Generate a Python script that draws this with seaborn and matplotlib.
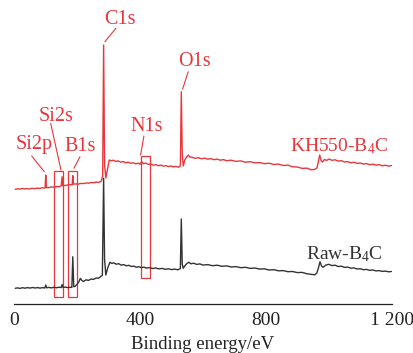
import matplotlib
matplotlib.use("Agg")
import matplotlib.pyplot as plt
import matplotlib.patches as patches
import seaborn as sns
import pandas as pd

# KH550-B4C spectrum (binding energy eV, intensity a.u.)
kh_energy = [3, 10, 18, 25, 32, 40, 48, 56, 64, 72, 80, 88, 95, 98, 100, 102, 110, 118, 126, 134,
             142, 149, 152, 154, 162, 170, 178, 184, 186, 188, 196, 204, 212, 220, 228, 236, 244,
             252, 260, 268, 276, 281, 284, 287, 291, 296, 302, 308, 315, 322, 330, 338, 346, 354,
             362, 370, 378, 386, 394, 400, 405, 410, 418, 426, 434, 442, 450, 458, 466, 474, 482,
             490, 498, 506, 514, 522, 528, 531, 534, 537, 542, 548, 553, 558, 565, 575, 585, 595,
             605, 615, 625, 635, 645, 655, 665, 675, 690, 705, 720, 735, 750, 765, 780, 795, 810,
             825, 840, 855, 870, 885, 900, 915, 930, 945, 955, 962, 966, 971, 976, 980, 986, 993,
             1001, 1010, 1020, 1030, 1040, 1050, 1060, 1070, 1080, 1090, 1100, 1110, 1120, 1130,
             1140, 1150, 1160, 1170, 1180, 1190, 1199]
kh_intensity = [114.7, 115.2, 114.9, 115.6, 115.1, 115.4, 115.0, 115.7, 115.3, 115.9, 115.6, 116.2,
                115.9, 116.3, 129, 116.5, 116.4, 117.0, 116.8, 117.4, 117.2, 118.0, 127.3, 118.2,
                118.6, 118.9, 119.4, 119.1, 128.3, 119.8, 120.1, 119.9, 120.6, 120.4, 121.0, 120.8,
                121.5, 121.3, 121.9, 121.7, 122.5, 128, 259, 139, 126, 134, 144, 143.2, 143.8,
                142.6, 143.1, 141.9, 142.4, 141.3, 141.8, 140.7, 141.2, 140.2, 140.8, 139.8, 142.5,
                140.2, 140.9, 139.6, 140.1, 138.8, 139.4, 138.3, 138.9, 137.8, 138.4, 137.4, 138.0,
                137.1, 137.6, 136.8, 138, 212.3, 150, 138, 144, 147, 149, 147, 146.8, 145.6, 146.3,
                145.2, 145.9, 144.8, 145.4, 144.3, 144.9, 143.8, 144.4, 143.3, 143.8, 142.6, 143.1,
                141.8, 142.3, 141.1, 141.5, 140.3, 140.8, 139.5, 139.9, 138.5, 138.9, 137.2, 137.0,
                135.6, 135.9, 134.2, 134.6, 136, 141, 149, 143, 142, 144.5, 143.6, 145, 143.7,
                144.2, 142.9, 143.3, 142.0, 142.4, 141.2, 141.7, 140.6, 141.0, 139.9, 140.4, 139.3,
                139.8, 138.9, 139.4, 138.2, 138.8, 137.9, 138.4]

# Raw-B4C spectrum
raw_energy = [3, 10, 18, 26, 34, 42, 50, 58, 66, 74, 82, 90, 97, 100, 103, 110, 118, 126, 134, 142,
              149, 152, 155, 162, 170, 178, 183, 186, 189, 194, 199, 205, 210, 215, 220, 228, 236,
              244, 252, 260, 268, 276, 280, 284, 287, 291, 297, 304, 310, 316, 324, 332, 340, 348,
              356, 364, 372, 380, 388, 396, 404, 412, 420, 430, 440, 450, 460, 470, 480, 490, 500,
              510, 520, 528, 531, 534, 537, 543, 549, 555, 562, 570, 580, 590, 600, 615, 630, 645,
              660, 675, 690, 705, 720, 735, 750, 765, 780, 795, 810, 825, 840, 855, 870, 885, 900,
              915, 930, 945, 955, 962, 967, 972, 977, 982, 990, 1000, 1010, 1020, 1030, 1040, 1050,
              1060, 1070, 1080, 1090, 1100, 1110, 1120, 1130, 1140, 1150, 1160, 1170, 1180, 1190,
              1199]
raw_intensity = [15.7, 16.1, 15.6, 16.3, 15.8, 16.4, 15.9, 16.5, 16.0, 16.4, 15.9, 16.4, 16.0, 19,
                 16.2, 16.6, 16.1, 16.7, 16.2, 16.8, 16.4, 19.5, 16.5, 16.9, 16.4, 16.8, 16.5, 47.3,
                 17.3, 17.8, 19.5, 22, 25.7, 23.5, 22.5, 24.2, 23.6, 25.0, 24.6, 26.0, 25.8, 27.8,
                 28.5, 125.7, 45, 29, 36, 41.7, 40.6, 41.2, 39.8, 40.3, 38.9, 39.4, 38.2, 38.7, 37.5,
                 37.9, 36.8, 37.3, 36.3, 36.9, 35.9, 36.4, 35.5, 36.0, 35.1, 35.6, 34.7, 35.2, 34.4,
                 34.9, 34.2, 35.5, 85, 40, 35.7, 38.5, 40.5, 41.7, 40.2, 40.8, 39.6, 40.1, 38.9,
                 39.4, 38.3, 38.8, 37.7, 38.1, 37.0, 37.4, 36.3, 36.7, 35.6, 36.0, 34.9, 35.2, 34.0,
                 34.3, 33.2, 33.4, 32.3, 32.5, 31.4, 31.6, 30.3, 29.6, 29.2, 31, 36, 42.3, 38, 36.7,
                 38.8, 39.7, 38.4, 38.8, 37.5, 37.8, 36.6, 36.9, 35.8, 36.1, 35.0, 35.3, 34.3, 34.6,
                 33.7, 34.0, 33.1, 33.4, 32.6, 32.9, 32.2, 32.5]

series_names = ["KH550-B$_4$C", "Raw-B$_4$C"]
x_ticks = [0, 400, 800, 1200]
x_tick_labels = ["0", "400", "800", "1 200"]

# highlighted regions (eV start, eV end, intensity low, intensity high)
boxes = [(126, 155, 6.7, 133.3), (171, 199, 6.7, 133.3), (403, 431, 26.3, 148)]

# peak labels: text, text position, leader start, leader end
peak_labels = [
    ("C1s", (336, 284.7), (323, 275.7), (288, 262.3)),
    ("O1s", (572, 242.3), (553, 232.3), (535, 214.7)),
    ("Si2s", (132.5, 187.3), (115.7, 180.7), (148.4, 134)),
    ("Si2p", (63.6, 159), (55.3, 148), (95.3, 132.3)),
    ("B1s", (208.8, 157.3), (208.8, 147.3), (189.7, 135.7)),
    ("N1s", (420.7, 177.3), (412.1, 168), (401.6, 149)),
]

RED = "#e8363c"
DARK = "#333333"

sns.set_style("white")
plt.rcParams["font.family"] = ["Liberation Serif", "DejaVu Serif"]
plt.rcParams["mathtext.fontset"] = "custom"
plt.rcParams["mathtext.rm"] = "Liberation Serif"
plt.rcParams["mathtext.default"] = "regular"

df = pd.concat([
    pd.DataFrame({"energy": kh_energy, "intensity": kh_intensity, "sample": series_names[0]}),
    pd.DataFrame({"energy": raw_energy, "intensity": raw_intensity, "sample": series_names[1]}),
])

fig = plt.figure(figsize=(4.14, 3.53), dpi=100)
ax = fig.add_axes([14.3 / 414, 49 / 353, 377.4 / 414, 304 / 353])
sns.lineplot(data=df, x="energy", y="intensity", hue="sample",
             palette={series_names[0]: RED, series_names[1]: DARK},
             linewidth=1.0, legend=False, ax=ax, sort=False)

ax.set_xlim(0, 1200)
ax.set_ylim(0, 304)
for s in ["top", "right", "left"]:
    ax.spines[s].set_visible(False)
ax.spines["bottom"].set_color("#222222")
ax.spines["bottom"].set_linewidth(0.9)
ax.set_yticks([])
ax.set_ylabel("")
ax.set_xticks(x_ticks)
ax.set_xticklabels(x_tick_labels)
ax.tick_params(axis="x", direction="in", length=3.5, width=0.9, pad=6,
               labelsize=14, colors="#222222")
ax.set_xlabel("Binding energy/eV", fontsize=13.5, color="#222222", labelpad=5)
ax.patch.set_alpha(0)

for x0, x1, y0, y1 in boxes:
    ax.add_patch(patches.Rectangle((x0, y0), x1 - x0, y1 - y0, fill=False,
                                   edgecolor=RED, linewidth=0.9))

for txt, tpos, l0, l1 in peak_labels:
    ax.text(tpos[0], tpos[1], txt, color=RED, fontsize=14.5, ha="center", va="center")
    ax.plot([l0[0], l1[0]], [l0[1], l1[1]], color=RED, linewidth=0.8)

ax.text(876, 152.3, series_names[0], color=RED, fontsize=14, ha="left", va="baseline")
ax.text(927, 45, series_names[1], color=DARK, fontsize=14, ha="left", va="baseline")

fig.savefig("out.png", dpi=100)
